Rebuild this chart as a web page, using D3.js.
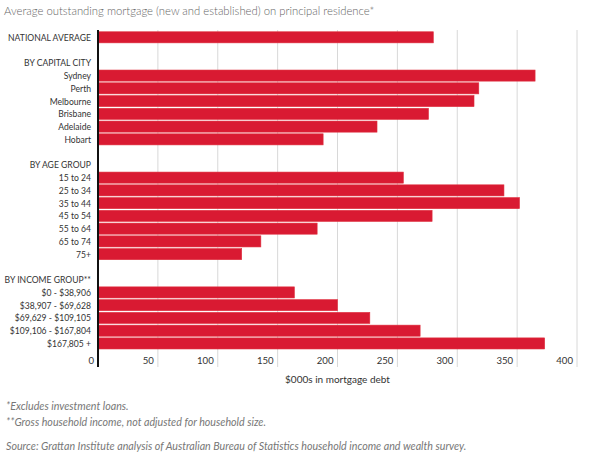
<!DOCTYPE html>
<html><head><meta charset="utf-8">
<script src="https://cdn.jsdelivr.net/npm/d3@7"></script>
<style>
html,body{margin:0;padding:0;background:#fff;}
svg{display:block;font-family:Lato,"Open Sans",sans-serif;}
</style></head>
<body>
<svg id="chart" width="600" height="462"></svg>
<script>
// Row labels (blank rows and group headings have no value)
const categories = ["NATIONAL AVERAGE","","BY CAPITAL CITY","Sydney","Perth","Melbourne","Brisbane","Adelaide","Hobart","","BY AGE GROUP","15 to 24","25 to 34","35 to 44","45 to 54","55 to 64","65 to 74","75+","","BY INCOME GROUP**","$0 - $38,906","$38,907 - $69,628","$69,629 - $109,105","$109,106 - $167,804","$167,805 +"];
const values = [280,null,null,365,318,314,276,233,188,null,null,255,339,352,279,183,136,120,null,null,164,200,227,269,373];
const tickValues = [0,50,100,150,200,250,300,350,400];
const title = "Average outstanding mortgage (new and established) on principal residence*";
const axisTitle = "$000s in mortgage debt";
const notes = ["*Excludes investment loans.","**Gross household income, not adjusted for household size."];
const source = "Source: Grattan Institute analysis of Australian Bureau of Statistics household income and wealth survey.";

(function(){
const svg = d3.select("#chart");
const mLeft = 98, mRight = 577, mTop = 31;
const x = d3.scaleLinear().domain([0,400]).range([mLeft,mRight]);
const y = d3.scaleBand().domain(d3.range(categories.length)).range([mTop, mTop + 12.75*categories.length]).paddingInner(0.13).paddingOuter(0.06);

svg.append("text").attr("x",4).attr("y",15).attr("font-size",11.3).attr("fill","#666").attr("font-weight",300).text(title);

// gridlines
svg.append("g").selectAll("line").data(tickValues.filter(d=>d>0)).join("line")
  .attr("x1",d=>x(d)).attr("x2",d=>x(d)).attr("y1",30).attr("y2",367)
  .attr("stroke","#d8d8d8").attr("stroke-width",1);

// bars
svg.append("g").selectAll("rect").data(values.map((v,i)=>({v,i})).filter(d=>d.v!==null)).join("rect")
  .attr("x",x(0)).attr("y",d=>y(d.i)).attr("width",d=>x(d.v)-x(0)).attr("height",y.bandwidth())
  .attr("fill","#d91a32").attr("stroke","#e0303f").attr("stroke-width",0.6);

// axis line
svg.append("line").attr("x1",x(0)).attr("x2",x(0)).attr("y1",30).attr("y2",367).attr("stroke","#111").attr("stroke-width",2);

// category labels (horizontally condensed to match the narrow original face)
svg.append("g").attr("transform","translate(91,0) scale(0.86,1)")
  .selectAll("text").data(categories.map((c,i)=>({c,i}))).join("text")
  .attr("x",0).attr("y",d=>y(d.i)+y.bandwidth()/2).attr("dy","0.35em")
  .attr("text-anchor","end").attr("font-size",10).attr("fill","#333").text(d=>d.c);

// tick labels
svg.append("g").selectAll("text").data(tickValues).join("text")
  .attr("x",d=>x(d)-4).attr("y",361).attr("dy","0.35em").attr("text-anchor","end")
  .attr("font-size",9.6).attr("fill","#333").text(d=>d);

svg.append("text").attr("x",(mLeft+mRight)/2).attr("y",379).attr("dy","0.35em").attr("text-anchor","middle")
  .attr("font-size",10).attr("fill","#333").text(axisTitle);

svg.append("g").selectAll("text").data(notes).join("text")
  .attr("x",6).attr("y",(d,i)=>410+i*15.5).attr("font-size",10.7).attr("font-style","italic").attr("fill","#777").text(d=>d);
svg.append("text").attr("x",6).attr("y",450).attr("font-size",10.7).attr("font-style","italic").attr("fill","#777").text(source);
})();
</script>
</body></html>
